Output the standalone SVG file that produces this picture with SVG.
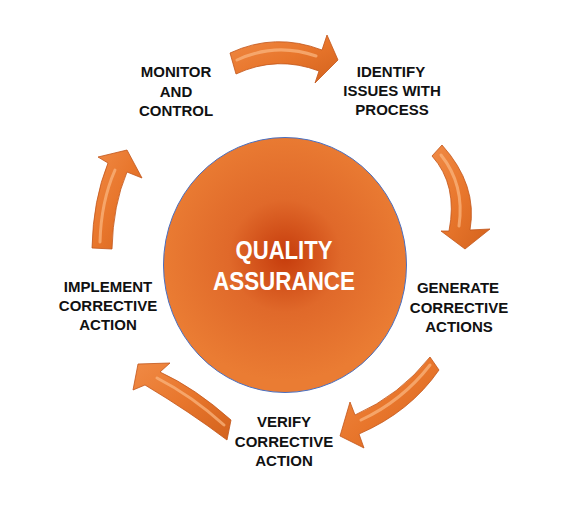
<svg xmlns="http://www.w3.org/2000/svg" width="568" height="529" viewBox="0 0 568 529">
  <defs>
    <radialGradient id="core" cx="285" cy="256" r="125" gradientUnits="userSpaceOnUse">
      <stop offset="0" stop-color="#C63C0C"/>
      <stop offset="0.45" stop-color="#E0692A"/>
      <stop offset="1" stop-color="#EA7C33"/>
    </radialGradient>
    <linearGradient id="arw" x1="0" y1="0" x2="1" y2="1">
      <stop offset="0" stop-color="#F08A45"/>
      <stop offset="0.5" stop-color="#E8762C"/>
      <stop offset="1" stop-color="#D3621D"/>
    </linearGradient>
    <style>
      .lbl { font-family: "Liberation Sans", Arial, sans-serif; font-weight: bold; font-size: 15px; fill: #111; text-anchor: middle; }
      .core { font-family: "Liberation Sans", Arial, sans-serif; font-weight: bold; font-size: 25px; fill: #FFFFFF; text-anchor: middle; }
      .arrow { fill: url(#arw); stroke: #C2561A; stroke-width: 0.8; stroke-linejoin: miter; }
      .shine { fill: none; stroke: #F9B47E; stroke-width: 3; stroke-linecap: round; opacity: 0.75; }
    </style>
  </defs>
  <rect width="568" height="529" fill="#FFFFFF"/>

  <g id="quality-assurance">
    <ellipse cx="285" cy="265" rx="121.5" ry="127.5" fill="url(#core)" stroke="#4A6FC0" stroke-width="1"/>
    <text class="core" x="284" y="259" textLength="97" lengthAdjust="spacingAndGlyphs">QUALITY</text>
    <text class="core" x="284" y="290" textLength="142" lengthAdjust="spacingAndGlyphs">ASSURANCE</text>
  </g>

  <g id="connectors">
    <g id="arrow-1">
      <path class="arrow" d="M 230,53 Q 275,32 322,50 L 327,35 L 338,60 L 315,83 L 319,71 Q 277,55 236,74 Z"/>
      <path class="shine" d="M 237,60 Q 276,42 316,56"/>
    </g>
    <g id="arrow-2">
      <path class="arrow" d="M 432,156 Q 458,185 449,231 L 441,231 L 465,249 L 490,229 L 470,230 Q 478,185 442,145 Z"/>
      <path class="shine" d="M 441,155 Q 465,185 459,226"/>
    </g>
    <g id="arrow-3">
      <path class="arrow" d="M 430,357 Q 400,395 355,415 L 350,402 L 340,436 L 364,448 L 359,434 Q 410,412 439,370 Z"/>
      <path class="shine" d="M 430,365 Q 402,401 361,420"/>
    </g>
    <g id="arrow-4">
      <path class="arrow" d="M 231,420 Q 195,388 160,372 L 170,363 L 138,364 L 133,390 L 145,385 Q 190,412 227,440 Z"/>
      <path class="shine" d="M 224,425 Q 192,396 157,378"/>
    </g>
    <g id="arrow-5">
      <path class="arrow" d="M 92,248 Q 93,200 108,163 L 98,157 L 127,150 L 142,178 L 127,172 Q 113,205 112,249 Z"/>
      <path class="shine" d="M 100,242 Q 101,202 115,170"/>
    </g>
  </g>

  <g id="monitor-and-control">
    <text class="lbl" x="176" y="77">MONITOR</text>
    <text class="lbl" x="176" y="97">AND</text>
    <text class="lbl" x="176" y="116">CONTROL</text>
  </g>
  <g id="identify-issues">
    <text class="lbl" x="391" y="77">IDENTIFY</text>
    <text class="lbl" x="392" y="96">ISSUES WITH</text>
    <text class="lbl" x="392" y="115">PROCESS</text>
  </g>
  <g id="generate-corrective-actions">
    <text class="lbl" x="458" y="293">GENERATE</text>
    <text class="lbl" x="459" y="313">CORRECTIVE</text>
    <text class="lbl" x="459" y="332">ACTIONS</text>
  </g>
  <g id="verify-corrective-action">
    <text class="lbl" x="284" y="427">VERIFY</text>
    <text class="lbl" x="284" y="447">CORRECTIVE</text>
    <text class="lbl" x="284" y="466">ACTION</text>
  </g>
  <g id="implement-corrective-action">
    <text class="lbl" x="108" y="292">IMPLEMENT</text>
    <text class="lbl" x="108" y="311">CORRECTIVE</text>
    <text class="lbl" x="108" y="330">ACTION</text>
  </g>
</svg>
